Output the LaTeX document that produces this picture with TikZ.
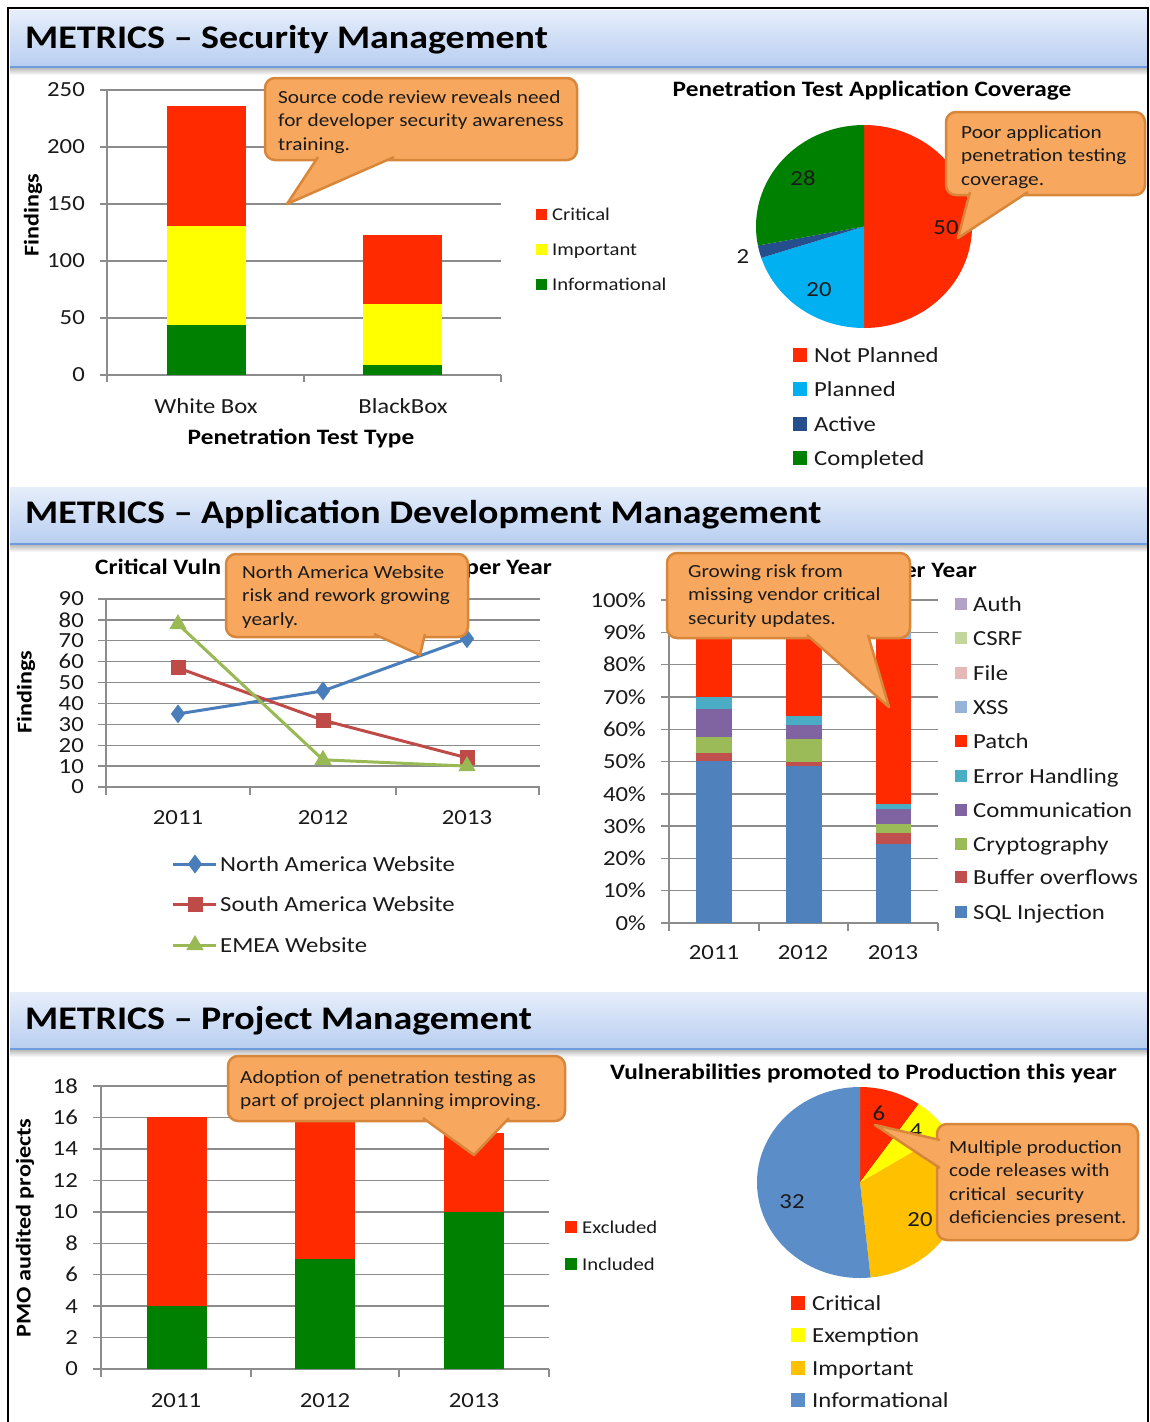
\documentclass[tikz,border=0pt]{standalone}
\usepackage{fontspec}
\setmainfont{Carlito}[FakeStretch=1.15]
\usetikzlibrary{plotmarks}

\definecolor{hdtop}{HTML}{E6EEFB}
\definecolor{hdbot}{HTML}{B8CEF0}
\definecolor{hdline}{HTML}{6E9BDB}
\definecolor{cfill}{HTML}{F8A85E}
\definecolor{cline}{HTML}{D8873A}
\definecolor{gridc}{HTML}{8C8C8C}
\definecolor{txtc}{HTML}{1A1A1A}
\definecolor{redc}{HTML}{FF2A00}
\definecolor{yelc}{HTML}{FFFF00}
\definecolor{grnc}{HTML}{008000}
\definecolor{cyanc}{HTML}{00B0F0}
\definecolor{navyc}{HTML}{254F8C}
\definecolor{nac}{HTML}{4A7EBB}
\definecolor{sac}{HTML}{BE4B48}
\definecolor{emc}{HTML}{98B954}
\definecolor{sqlc}{HTML}{4F81BD}
\definecolor{boc}{HTML}{C0504D}
\definecolor{cryc}{HTML}{9BBB59}
\definecolor{comc}{HTML}{8064A2}
\definecolor{errc}{HTML}{4BACC6}
\definecolor{xssc}{HTML}{95B3D7}
\definecolor{filec}{HTML}{E6B9B8}
\definecolor{csrfc}{HTML}{C3D69B}
\definecolor{authc}{HTML}{B3A2C7}
\definecolor{impc}{HTML}{FFC000}
\definecolor{infc}{HTML}{5B8DC9}

\newcommand{\callbubble}[5]{%
  \draw[callbox] #1 rectangle #2;
  \fill[cfill] #3 -- #4 -- #5 -- cycle;
  \draw[cline, line width=2.5pt, line join=round] #3 -- #4 -- #5;}

\begin{document}
\begin{tikzpicture}[x=1pt, y=-1pt,
    hdr/.style={font=\bfseries\fontsize{33}{36}\selectfont, anchor=base west, inner sep=0pt},
    ttl/.style={font=\bfseries\fontsize{22}{24}\selectfont, anchor=base, inner sep=0pt},
    axl/.style={font=\fontsize{21.5}{24}\selectfont, inner sep=0pt, text=txtc},
    lgs/.style={font=\fontsize{18}{20}\selectfont, anchor=base west, inner sep=0pt, text=txtc},
    lgb/.style={font=\fontsize{21.5}{24}\selectfont, anchor=base west, inner sep=0pt, text=txtc},
    ctxt/.style={font=\fontsize{18.5}{23.5}\selectfont, align=left, anchor=north west, inner sep=0pt, text=txtc},
    vlab/.style={font=\bfseries\fontsize{21}{24}\selectfont, rotate=90, inner sep=0pt},
    gridl/.style={draw=gridc, line width=1.4pt},
    callbox/.style={fill=cfill, draw=cline, line width=2.5pt, rounded corners=10pt}]
\useasboundingbox (0,0) rectangle (1150,1422);
\fill[white] (0,0) rectangle (1150,1422);

\foreach \t in {10,487,992} {
  \shade[top color=black!30, bottom color=white] (10,\t+57) rectangle (1147,\t+65);
  \shade[top color=hdtop, bottom color=hdbot] (10,\t) rectangle (1147,\t+57);
  \draw[hdline, line width=2pt] (10,\t+57) -- (1147,\t+57);
}
\node[hdr] (H1) at (25,48) {METRICS – Security Management};
\node[hdr] (H2) at (25,523) {METRICS – Application Development Management};
\node[hdr] (H3) at (25,1029) {METRICS – Project Management};

% penetration test type
\foreach \v in {0,50,...,250} {
  \draw[gridl] (100,375-1.14*\v) -- (501,375-1.14*\v);
  \node[axl, anchor=east] (A\v) at (85,375-1.14*\v) {\v};
}
\draw[gridl] (107,90) -- (107,382);
\foreach \x in {304,501}
  \draw[gridl] (\x,375) -- (\x,382);
\fill[grnc] (167,324.7) rectangle (246,375);
\fill[yelc] (167,225.7) rectangle (246,324.7);
\fill[redc] (167,106) rectangle (246,225.7);
\fill[grnc] (363,364.7) rectangle (442,375);
\fill[yelc] (363,303.7) rectangle (442,364.7);
\fill[redc] (363,234.8) rectangle (442,303.7);
\node[axl, anchor=base] (WB) at (206,413) {White Box};
\node[axl, anchor=base] (BB) at (403,413) {BlackBox};
\node[ttl] (PTT) at (301,444) {Penetration Test Type};
\node[vlab] (FA) at (33,215) {Findings};
\fill[redc] (536,208.5) rectangle (547,219.5);
\fill[yelc] (536,243.5) rectangle (547,254.5);
\fill[grnc] (536,278.5) rectangle (547,289.5);
\node[lgs] (LCr) at (552,220) {Critical};
\node[lgs] (LIm) at (552,255) {Important};
\node[lgs] (LIn) at (552,290) {Informational};
\callbubble{(265,78)}{(577,160)}{(318,157)}{(287,204)}{(394,157)}
\node[ctxt] (C1) at (278,90) {Source code review reveals need\\for developer security awareness\\training.};

% application coverage
\node[ttl] (PAC) at (872,96) {Penetration Test Application Coverage};
\fill[redc] (864,226.5) -- +(-90:108 and 101.5) arc[start angle=-90, end angle=90, x radius=108, y radius=101.5] -- cycle;
\fill[cyanc] (864,226.5) -- +(90:108 and 101.5) arc[start angle=90, end angle=162, x radius=108, y radius=101.5] -- cycle;
\fill[navyc] (864,226.5) -- +(162:108 and 101.5) arc[start angle=162, end angle=169.2, x radius=108, y radius=101.5] -- cycle;
\fill[grnc] (864,226.5) -- +(169.2:108 and 101.5) arc[start angle=169.2, end angle=270, x radius=108, y radius=101.5] -- cycle;
\node[axl] (V50) at (946,228) {50};
\node[axl] (V20) at (819,290) {20};
\node[axl] (V2) at (743,257) {2};
\node[axl] (V28) at (803,178) {28};
\fill[redc] (793,348) rectangle (807,362);
\fill[cyanc] (793,382) rectangle (807,396);
\fill[navyc] (793,417) rectangle (807,431);
\fill[grnc] (793,451) rectangle (807,465);
\node[lgb] (LNP) at (814,362) {Not Planned};
\node[lgb] (LPl) at (814,396) {Planned};
\node[lgb] (LAc) at (814,431) {Active};
\node[lgb] (LCo) at (814,465) {Completed};
\callbubble{(946,112)}{(1145,195)}{(970,192)}{(958,238)}{(1028,192)}
\node[ctxt] (C2) at (961,125) {Poor application\\penetration testing\\coverage.};

% critical vulnerabilities per website
\node[ttl, anchor=base west] (CVa) at (95,574) {Critical Vuln};
\node[ttl, anchor=base east] (CVb) at (552,574) {per Year};
\foreach \v in {0,10,...,90} {
  \draw[gridl] (98,787-2.089*\v) -- (540,787-2.089*\v);
  \node[axl, anchor=east] (B\v) at (84,787-2.089*\v) {\v};
}
\draw[gridl] (106,599) -- (106,795);
\foreach \x in {250,396,539}
  \draw[gridl] (\x,787) -- (\x,795);
\node[axl] (YB1) at (178,818) {2011};
\node[axl] (YB2) at (323,818) {2012};
\node[axl] (YB3) at (467,818) {2013};
\node[vlab] (FB) at (26,692) {Findings};
\draw[nac, line width=3pt, mark=diamond*, mark size=7pt] plot coordinates {(178,713.9) (323,690.9) (467,638.7)};
\draw[sac, line width=3pt, mark=square*, mark size=6pt] plot coordinates {(178,667.9) (323,720.2) (467,757.8)};
\draw[emc, line width=3pt, mark=triangle*, mark size=7pt] plot coordinates {(178,624.1) (323,759.8) (467,766.1)};
\draw[nac, line width=3pt, mark=diamond*, mark size=7pt, mark indices={2}] plot coordinates {(173,864) (195,864) (216,864)};
\draw[sac, line width=3pt, mark=square*, mark size=6pt, mark indices={2}] plot coordinates {(173,904) (195,904) (216,904)};
\draw[emc, line width=3pt, mark=triangle*, mark size=7pt, mark indices={2}] plot coordinates {(173,945) (195,945) (216,945)};
\node[lgb] (LNA) at (220,871) {North America Website};
\node[lgb] (LSA) at (220,911) {South America Website};
\node[lgb] (LEM) at (220,952) {EMEA Website};
\callbubble{(226,554)}{(468,637)}{(374,634)}{(420,655)}{(425,634)}
\node[ctxt] (C3) at (242,565) {North America Website\\risk and rework growing\\yearly.};

% vulnerabilities per year
\node[ttl, anchor=base east] (VPY) at (977,577) {er Year};
\foreach \v in {0,10,...,100} {
  \draw[gridl] (661,923-3.23*\v) -- (938,923-3.23*\v);
  \node[axl, anchor=east] (P\v) at (646,923-3.23*\v) {\v\%};
}
\draw[gridl] (669,600) -- (669,931);
\foreach \x in {759,848,938}
  \draw[gridl] (\x,923) -- (\x,931);
\foreach \a/\b/\c in {0/50.2/sqlc, 50.2/52.7/boc, 52.7/57.7/cryc, 57.7/66.3/comc, 66.3/70.1/errc,
    70.1/88/redc, 88/92/xssc, 92/95/filec, 95/97.5/csrfc, 97.5/100/authc}
  \fill[\c] (696,923-3.23*\a) rectangle (732,923-3.23*\b);
\foreach \a/\b/\c in {0/48.6/sqlc, 48.6/49.9/boc, 49.9/56.9/cryc, 56.9/61.3/comc, 61.3/64.2/errc,
    64.2/88/redc, 88/92/xssc, 92/95/filec, 95/97.5/csrfc, 97.5/100/authc}
  \fill[\c] (786,923-3.23*\a) rectangle (822,923-3.23*\b);
\foreach \a/\b/\c in {0/24.4/sqlc, 24.4/28/boc, 28/30.7/cryc, 30.7/35.4/comc, 35.4/36.7/errc,
    36.7/87.9/redc, 87.9/91.5/xssc, 91.5/94.5/filec, 94.5/97.5/csrfc, 97.5/100/authc}
  \fill[\c] (876,923-3.23*\a) rectangle (911,923-3.23*\b);
\node[axl] (YC1) at (714,953) {2011};
\node[axl] (YC2) at (803,953) {2012};
\node[axl] (YC3) at (893,953) {2013};
\foreach \y/\c in {604/authc, 638/csrfc, 673/filec, 707/xssc, 741/redc, 776/errc, 810/comc, 844/cryc, 877/boc, 912/sqlc}
  \fill[\c] (955,\y-6) rectangle (967,\y+6);
\node[lgb] (LAu) at (973,611) {Auth};
\node[lgb] (LCs) at (973,645) {CSRF};
\node[lgb] (LFi) at (973,680) {File};
\node[lgb] (LXs) at (973,714) {XSS};
\node[lgb] (LPa) at (973,748) {Patch};
\node[lgb] (LEr) at (973,783) {Error Handling};
\node[lgb] (LCm) at (973,817) {Communication};
\node[lgb] (LCy) at (973,851) {Cryptography};
\node[lgb] (LBo) at (973,884) {Buffer overflows};
\node[lgb] (LSq) at (973,919) {SQL Injection};
\callbubble{(667,553)}{(910,638)}{(807,635)}{(889,707)}{(868,635)}
\node[ctxt] (C4) at (688,564) {Growing risk from\\missing vendor critical\\security updates.};

% pmo audited projects
\foreach \v in {0,2,...,18} {
  \draw[gridl] (93,1369-15.72*\v) -- (549,1369-15.72*\v);
  \node[axl, anchor=east] (Q\v) at (78,1369-15.72*\v) {\v};
}
\draw[gridl] (101,1086) -- (101,1377);
\foreach \x in {251,399,549}
  \draw[gridl] (\x,1369) -- (\x,1377);
\fill[grnc] (147,1369-15.72*4) rectangle (207,1369);
\fill[redc] (147,1369-15.72*16) rectangle (207,1369-15.72*4);
\fill[grnc] (295,1369-15.72*7) rectangle (355,1369);
\fill[redc] (295,1369-15.72*16) rectangle (355,1369-15.72*7);
\fill[grnc] (444,1369-15.72*10) rectangle (504,1369);
\fill[redc] (444,1369-15.72*15) rectangle (504,1369-15.72*10);
\node[axl] (YD1) at (176,1401) {2011};
\node[axl] (YD2) at (325,1401) {2012};
\node[axl] (YD3) at (474,1401) {2013};
\node[vlab] (PMO) at (25,1228) {PMO audited projects};
\fill[redc] (565,1221) rectangle (577,1233);
\fill[grnc] (565,1258) rectangle (577,1270);
\node[lgs] (LEx) at (582,1233) {Excluded};
\node[lgs] (LIc) at (582,1270) {Included};
\callbubble{(228,1056)}{(565,1121)}{(423,1118)}{(474,1155)}{(509,1118)}
\node[ctxt] (C5) at (240,1070) {Adoption of penetration testing as\\part of project planning improving.};

% promoted to production
\node[ttl] (VPP) at (863.5,1079) {Vulnerabilities promoted to Production this year};
\fill[redc] (860,1182.5) -- +(-90:103 and 95.5) arc[start angle=-90, end angle=-55.2, x radius=103, y radius=95.5] -- cycle;
\fill[yelc] (860,1182.5) -- +(-55.2:103 and 95.5) arc[start angle=-55.2, end angle=-32, x radius=103, y radius=95.5] -- cycle;
\fill[impc] (860,1182.5) -- +(-32:103 and 95.5) arc[start angle=-32, end angle=84.1, x radius=103, y radius=95.5] -- cycle;
\fill[infc] (860,1182.5) -- +(84.1:103 and 95.5) arc[start angle=84.1, end angle=270, x radius=103, y radius=95.5] -- cycle;
\node[axl] (W6) at (879,1113) {6};
\node[axl] (W4) at (916,1131) {4};
\node[axl] (W20) at (920,1220) {20};
\node[axl] (W32) at (792,1202) {32};
\fill[redc] (791,1296) rectangle (805,1310);
\fill[yelc] (791,1328) rectangle (805,1342);
\fill[impc] (791,1361) rectangle (805,1375);
\fill[infc] (791,1393) rectangle (805,1407);
\node[lgb] (LCr2) at (812,1310) {Critical};
\node[lgb] (LEx2) at (812,1342) {Exemption};
\node[lgb] (LIm2) at (812,1375) {Important};
\node[lgb] (LIn2) at (812,1407) {Informational};
\callbubble{(937,1124)}{(1138,1240)}{(940,1140)}{(875,1125)}{(940,1168)}
\node[ctxt] (C6) at (949,1140) {Multiple production\\code releases with\\critical\ \ security\\deficiencies present.};

\draw[line width=2.5pt] (8,1423) -- (8,8) -- (1148,8) -- (1148,1423);
\end{tikzpicture}
\end{document}
